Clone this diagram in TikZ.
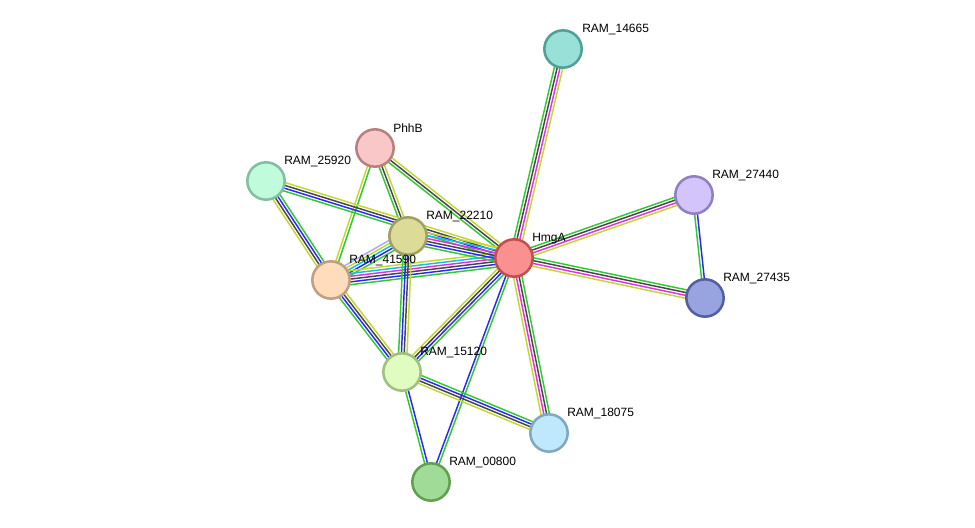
\documentclass[tikz,border=0pt]{standalone}
\usepackage{fontspec}
\setmainfont{Liberation Sans}
\usetikzlibrary{calc,backgrounds}
\definecolor{evG}{RGB}{50,200,50}
\definecolor{evB}{RGB}{40,40,250}
\definecolor{evK}{RGB}{70,70,70}
\definecolor{evM}{RGB}{225,50,225}
\definecolor{evC}{RGB}{20,190,225}
\definecolor{evY}{RGB}{195,215,50}
\definecolor{evL}{RGB}{170,170,255}
\tikzset{
  prot/.style={circle, minimum size=28pt, inner sep=0pt, line width=1.9pt},
  lbl/.style={anchor=west, inner sep=0pt, yshift=-1.2pt, font=\fontsize{9}{11}\selectfont},
  edge/.style={line width=1.1pt},
}
\newcommand\bundle[3]{%
  \foreach \c [count=\n] in {#3} {\xdef\bn{\n}}%
  \foreach \c [count=\i] in {#3} {%
    \pgfmathsetmacro\off{(\i-(\bn+1)/2)*2.1}%
    \draw[edge,color=\c] ($(#1)!\off pt!90:(#2)$) -- ($(#2)!\off pt!-90:(#1)$);%
  }%
}
\begin{document}
\begin{tikzpicture}[x=0.75pt,y=-0.75pt]
\useasboundingbox (0,0) rectangle (975,528);
\node[prot, fill={rgb,255:red,152;green,224;blue,216}, draw={rgb,255:red,80;green,160;blue,150}] (n14665) at (563,49) {};
\node[prot, fill={rgb,255:red,248;green,200;blue,200}, draw={rgb,255:red,184;green,128;blue,128}] (PhhB) at (375,148) {};
\node[prot, fill={rgb,255:red,192;green,252;blue,220}, draw={rgb,255:red,128;green,192;blue,160}] (n25920) at (266,181) {};
\node[prot, fill={rgb,255:red,220;green,220;blue,152}, draw={rgb,255:red,160;green,160;blue,96}] (n22210) at (408,236) {};
\node[prot, fill={rgb,255:red,250;green,144;blue,144}, draw={rgb,255:red,192;green,80;blue,80}] (HmgA) at (514,258) {};
\node[prot, fill={rgb,255:red,212;green,196;blue,252}, draw={rgb,255:red,144;green,128;blue,192}] (n27440) at (694,195) {};
\node[prot, fill={rgb,255:red,254;green,220;blue,188}, draw={rgb,255:red,192;green,160;blue,128}] (n41590) at (331,280) {};
\node[prot, fill={rgb,255:red,152;green,164;blue,224}, draw={rgb,255:red,80;green,96;blue,160}] (n27435) at (705,298) {};
\node[prot, fill={rgb,255:red,224;green,252;blue,192}, draw={rgb,255:red,160;green,192;blue,128}] (n15120) at (402,372) {};
\node[prot, fill={rgb,255:red,192;green,232;blue,252}, draw={rgb,255:red,128;green,168;blue,192}] (n18075) at (549,433) {};
\node[prot, fill={rgb,255:red,160;green,220;blue,152}, draw={rgb,255:red,96;green,160;blue,80}] (n00800) at (431,482) {};
\node[lbl] (l14665) at (582,28) {RAM\_14665};
\node[lbl] (lPhhB) at (393,127) {PhhB};
\node[lbl] (l25920) at (284,160) {RAM\_25920};
\node[lbl] (l22210) at (426,215) {RAM\_22210};
\node[lbl] (lHmgA) at (532,237) {HmgA};
\node[lbl] (l27440) at (712,174) {RAM\_27440};
\node[lbl] (l41590) at (349,259) {RAM\_41590};
\node[lbl] (l27435) at (723,277) {RAM\_27435};
\node[lbl] (l15120) at (420,351) {RAM\_15120};
\node[lbl] (l18075) at (567,412) {RAM\_18075};
\node[lbl] (l00800) at (449,461) {RAM\_00800};
\begin{pgfonlayer}{background}
\fill[white] (0,0) rectangle (975,528);
\bundle{n14665}{HmgA}{evG,evK,evM,evY}
\bundle{n27440}{HmgA}{evG,evK,evM,evY}
\bundle{n27435}{HmgA}{evG,evK,evM,evY}
\bundle{n18075}{HmgA}{evG,evK,evM,evY}
\bundle{n27440}{n27435}{evG,evB}
\bundle{PhhB}{n22210}{evG,evK,evY}
\bundle{PhhB}{HmgA}{evG,evK,evY}
\bundle{n41590}{PhhB}{evG,evY}
\bundle{n25920}{HmgA}{evG,evB,evK,evY}
\bundle{n41590}{n25920}{evG,evB,evK,evY}
\bundle{n41590}{n22210}{evG,evB,evC,evY,evL}
\bundle{n41590}{HmgA}{evG,evB,evK,evM,evC,evY}
\bundle{n22210}{HmgA}{evG,evB,evK,evM,evC,evY}
\bundle{n41590}{n15120}{evG,evB,evK,evY}
\bundle{n22210}{n15120}{evG,evB,evK,evY}
\bundle{n15120}{HmgA}{evG,evB,evK,evY}
\bundle{n00800}{HmgA}{evG,evB}
\bundle{n18075}{n15120}{evG,evB,evK,evY}
\bundle{n15120}{n00800}{evG,evB}
\end{pgfonlayer}
\end{tikzpicture}
\end{document}
